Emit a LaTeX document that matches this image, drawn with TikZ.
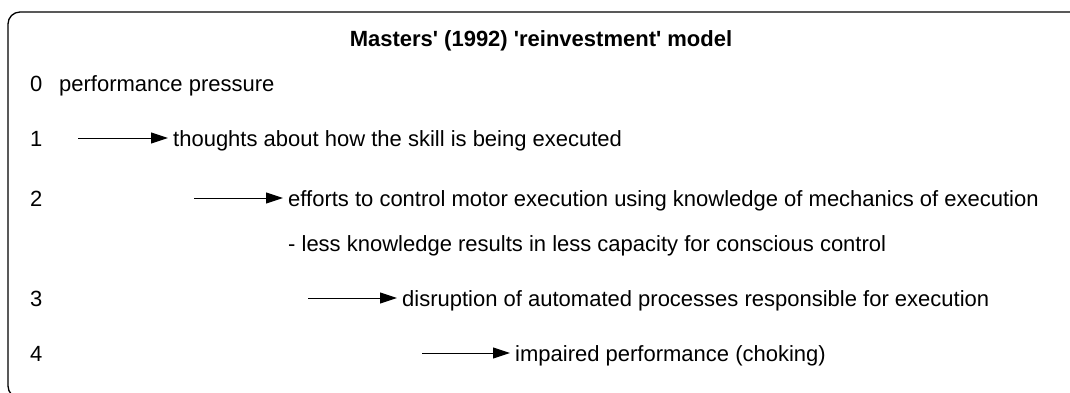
\documentclass[tikz,border=0pt]{standalone}
\usepackage{fontspec}
\setmainfont{Liberation Sans}[Ligatures=TeXOff]
\usetikzlibrary{arrows.meta}
\begin{document}
\begin{tikzpicture}[x=1pt,y=-1pt,
  txt/.style={anchor=base west,inner sep=0pt,font=\fontsize{22}{24}\selectfont},
  arr/.style={-{Triangle[length=17pt,width=11pt]},line width=1pt}]
\useasboundingbox (0,0) rectangle (1070,392);
\begin{scope}
\clip (0,0) rectangle (1070,392);
\draw[line width=1.3pt,rounded corners=12pt] (8,12) rectangle (1090,398);
\end{scope}
\node[txt,anchor=base,font=\bfseries\fontsize{22}{24}\selectfont] (title) at (541,46) {Masters' (1992) 'reinvestment' model};
\node[txt] (n0) at (30,91) {0};
\node[txt] (t0) at (59,91) {performance pressure};
\node[txt] (n1) at (30,146) {1};
\coordinate (a1s) at (78,138);
\coordinate (a1e) at (168,138);
\node[txt] (t1) at (173,146) {thoughts about how the skill is being executed};
\node[txt] (n2) at (30,206) {2};
\coordinate (a2s) at (194,198);
\coordinate (a2e) at (283,198);
\node[txt] (t2) at (288,206) {efforts to control motor execution using knowledge of mechanics of execution};
\node[txt] (t2b) at (288,251) {- less knowledge results in less capacity for conscious control};
\node[txt] (n3) at (30,306) {3};
\coordinate (a3s) at (308,298);
\coordinate (a3e) at (397,298);
\node[txt] (t3) at (402,306) {disruption of automated processes responsible for execution};
\node[txt] (n4) at (30,361) {4};
\coordinate (a4s) at (422,353);
\coordinate (a4e) at (510,353);
\node[txt] (t4) at (515,361) {impaired performance (choking)};
\draw[arr] (a1s) -- (a1e);
\draw[arr] (a2s) -- (a2e);
\draw[arr] (a3s) -- (a3e);
\draw[arr] (a4s) -- (a4e);
\end{tikzpicture}
\end{document}
